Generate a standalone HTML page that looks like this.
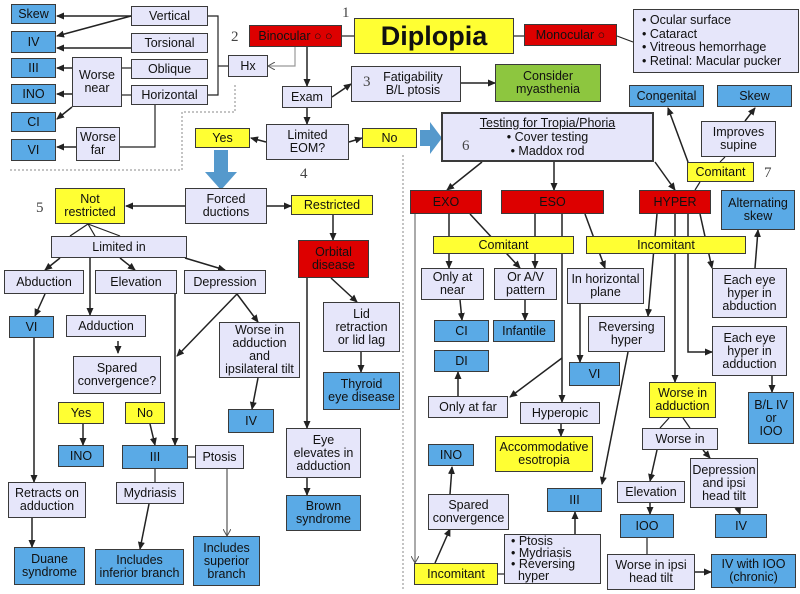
<!DOCTYPE html>
<html><head><meta charset="utf-8"><style>
body{margin:0;width:800px;height:594px;background:#fff;position:relative;overflow:hidden;font-family:"Liberation Sans",sans-serif;}
.b{position:absolute;box-sizing:border-box;border:1.5px solid #3a3a3a;display:flex;align-items:center;justify-content:center;text-align:center;font-size:12.5px;line-height:13px;color:#111;background:#e6e6fa;}
.l{background:#e6e6fa}.u{background:#5aaae6}.y{background:#ffff33}.r{background:#dd0000;color:#111}.g{background:#8dc63f}
.n{position:absolute;font-family:"Liberation Serif",serif;font-size:15px;color:#444}
svg{position:absolute;left:0;top:0}
</style></head><body>
<svg width="800" height="594">
<defs><marker id="a" markerWidth="8" markerHeight="8" refX="7" refY="4" orient="auto" markerUnits="userSpaceOnUse"><path d="M0,0.5 L8,4 L0,7.5z" fill="#222"/></marker>
<marker id="o" markerWidth="8" markerHeight="8" refX="7" refY="4" orient="auto" markerUnits="userSpaceOnUse"><path d="M0,0 L7,4 L0,8" fill="none" stroke="#555"/></marker></defs>
<g fill="none" stroke="#888" stroke-dasharray="2,2" stroke-width="1">
<path d="M235,85 V112 H182 V170 H10"/><path d="M403,155 V590"/></g>
<g fill="none" stroke="#222" stroke-width="1.5" marker-end="url(#a)">
<path d="M131,16 L57,16"/><path d="M131,16 L57,36"/><path d="M131,48 L57,48"/>
<path d="M72,68 L57,68"/><path d="M72,94 L57,94"/><path d="M72,107 L57,119"/><path d="M76,147 L57,147"/>
<path d="M307,47 V86"/><path d="M332,97 L351,84"/><path d="M461,83 L495,83"/><path d="M307,108 V124"/>
<path d="M266,142 L251,138"/><path d="M349,142 L362,138"/>
<path d="M185,206 L126,206"/><path d="M267,206 L291,206"/><path d="M333,215 V240"/>
<path d="M331,278 L357,302"/><path d="M361,352 V372"/><path d="M307,278 V428"/><path d="M307,478 V495"/>
<path d="M60,258 L45,270"/><path d="M90,258 V315"/><path d="M120,258 L135,270"/><path d="M185,258 L225,270"/>
<path d="M45,294 L35,316"/><path d="M34,338 V482"/><path d="M32,518 V547"/>
<path d="M118,341 V353"/><path d="M175,294 V445"/><path d="M237,294 L177,356"/><path d="M237,294 L258,322"/>
<path d="M258,378 L252,409"/><path d="M83,424 V445"/><path d="M150,424 L155,445"/>
<path d="M149,504 L140,549"/>
<path d="M482,162 L447,190"/><path d="M554,162 V190"/><path d="M655,162 L675,190"/>
<path d="M688,162 L668,108"/><path d="M745,121 L755,108"/>
<path d="M449,214 V268"/><path d="M470,214 L520,268"/><path d="M535,214 V268"/><path d="M562,214 V402"/><path d="M562,358 L510,397"/><path d="M585,214 L605,268"/>
<path d="M657,214 L648,316"/><path d="M675,214 V382"/><path d="M688,214 V352 H712"/><path d="M700,214 L712,268"/>
<path d="M755,268 L758,230"/><path d="M772,376 V392"/>
<path d="M460,300 L462,320"/><path d="M525,300 V320"/><path d="M580,304 V362"/><path d="M458,396 V372"/><path d="M561,424 V436"/>
<path d="M628,352 L602,484"/><path d="M657,450 L650,481"/><path d="M703,450 L710,458"/><path d="M650,503 V514"/><path d="M738,508 L740,514"/>
<path d="M695,572 H711"/><path d="M435,563 L450,529"/><path d="M450,494 L452,467"/><path d="M575,534 V512"/>
</g>
<g fill="none" stroke="#222" stroke-width="1.2">
<path d="M122,68 H131"/><path d="M122,95 H131"/><path d="M155,105 V147 H120"/><path d="M208,16 H218 V95 H208"/><path d="M218,66 H228"/>
<path d="M342,36 H354"/><path d="M514,36 H524"/><path d="M617,36 L633,42"/>
<path d="M88,224 L70,236"/><path d="M88,224 L95,236"/><path d="M88,224 L120,236"/>
<path d="M720,162 L725,157"/><path d="M700,182 L695,190"/>
<path d="M188,457 H195"/><path d="M155,469 V482"/>
<path d="M669,418 L660,428"/><path d="M683,418 L690,428"/><path d="M647,538 V554"/><path d="M498,574 H504"/>
</g>
<path d="M295,47 V66 H268" fill="none" stroke="#999" stroke-width="1.2" marker-end="url(#o)"/>
<path d="M227,469 V536" fill="none" stroke="#555" stroke-width="1.2" marker-end="url(#o)"/>
<path d="M415,214 V563" fill="none" stroke="#555" stroke-width="1" marker-end="url(#o)"/>
<path d="M214,150 H228 V172 H237 L221,190 L205,172 H214z" fill="#5599cc"/>
<path d="M420,130 H430 V122 L442,138 L430,154 V146 H420z" fill="#5599cc"/>
</svg>
<div class="b u" style="left:11px;top:4px;width:45px;height:20px">Skew</div>
<div class="b u" style="left:11px;top:31px;width:45px;height:22px">IV</div>
<div class="b u" style="left:11px;top:58px;width:45px;height:20px">III</div>
<div class="b u" style="left:11px;top:84px;width:45px;height:20px">INO</div>
<div class="b u" style="left:11px;top:112px;width:45px;height:20px">CI</div>
<div class="b u" style="left:11px;top:139px;width:45px;height:22px">VI</div>
<div class="b" style="left:131px;top:6px;width:77px;height:20px">Vertical</div>
<div class="b" style="left:131px;top:33px;width:77px;height:20px">Torsional</div>
<div class="b" style="left:131px;top:59px;width:77px;height:20px">Oblique</div>
<div class="b" style="left:131px;top:85px;width:77px;height:20px">Horizontal</div>
<div class="b" style="left:72px;top:57px;width:50px;height:50px">Worse near</div>
<div class="b" style="left:76px;top:127px;width:44px;height:34px">Worse far</div>
<div class="b" style="left:228px;top:55px;width:40px;height:22px">Hx</div>
<div class="b r" style="left:249px;top:25px;width:93px;height:22px">Binocular ○ ○</div>
<div class="b y" style="left:354px;top:18px;width:160px;height:36px;font-size:27px;font-weight:bold">Diplopia</div>
<div class="b r" style="left:524px;top:24px;width:93px;height:22px">Monocular ○</div>
<div class="b" style="left:633px;top:9px;width:166px;height:64px;justify-content:flex-start;text-align:left;padding-left:8px;line-height:13.5px">• Ocular surface<br>• Cataract<br>• Vitreous hemorrhage<br>• Retinal: Macular pucker</div>
<div class="b" style="left:282px;top:86px;width:50px;height:22px">Exam</div>
<div class="b" style="left:351px;top:66px;width:110px;height:36px">&nbsp;&nbsp;&nbsp;&nbsp;Fatigability<br>&nbsp;&nbsp;&nbsp;&nbsp;B/L ptosis</div>
<div class="b g" style="left:495px;top:64px;width:106px;height:38px">Consider<br>myasthenia</div>
<div class="b" style="left:266px;top:124px;width:83px;height:36px">Limited<br>EOM?</div>
<div class="b y" style="left:195px;top:128px;width:55px;height:20px">Yes</div>
<div class="b y" style="left:362px;top:128px;width:55px;height:20px">No</div>
<div class="b" style="left:441px;top:112px;width:213px;height:50px;border-width:2.5px;flex-direction:column;line-height:14px"><u>Testing for Tropia/Phoria</u>• Cover testing<br>• Maddox rod</div>
<div class="b u" style="left:629px;top:85px;width:75px;height:22px">Congenital</div>
<div class="b u" style="left:717px;top:85px;width:75px;height:22px">Skew</div>
<div class="b" style="left:701px;top:121px;width:75px;height:36px">Improves<br>supine</div>
<div class="b y" style="left:687px;top:162px;width:67px;height:20px">Comitant</div>
<div class="b u" style="left:721px;top:190px;width:74px;height:40px">Alternating<br>skew</div>
<div class="b r" style="left:410px;top:190px;width:72px;height:24px">EXO</div>
<div class="b r" style="left:501px;top:190px;width:103px;height:24px">ESO</div>
<div class="b r" style="left:639px;top:190px;width:72px;height:24px">HYPER</div>
<div class="b y" style="left:433px;top:236px;width:141px;height:18px">Comitant</div>
<div class="b y" style="left:586px;top:236px;width:160px;height:18px">Incomitant</div>
<div class="b" style="left:421px;top:268px;width:63px;height:32px">Only at<br>near</div>
<div class="b" style="left:494px;top:268px;width:63px;height:32px">Or A/V<br>pattern</div>
<div class="b" style="left:567px;top:268px;width:77px;height:36px">In horizontal<br>plane</div>
<div class="b" style="left:712px;top:268px;width:75px;height:50px">Each eye<br>hyper in<br>abduction</div>
<div class="b u" style="left:434px;top:320px;width:55px;height:22px">CI</div>
<div class="b u" style="left:493px;top:320px;width:62px;height:22px">Infantile</div>
<div class="b" style="left:588px;top:316px;width:77px;height:36px">Reversing<br>hyper</div>
<div class="b" style="left:712px;top:326px;width:75px;height:50px">Each eye<br>hyper in<br>adduction</div>
<div class="b u" style="left:434px;top:350px;width:55px;height:22px">DI</div>
<div class="b u" style="left:569px;top:362px;width:51px;height:24px">VI</div>
<div class="b y" style="left:649px;top:382px;width:67px;height:36px">Worse in<br>adduction</div>
<div class="b u" style="left:748px;top:392px;width:46px;height:52px">B/L IV<br>or<br>IOO</div>
<div class="b" style="left:428px;top:396px;width:80px;height:22px">Only at far</div>
<div class="b" style="left:520px;top:402px;width:80px;height:22px">Hyperopic</div>
<div class="b" style="left:642px;top:428px;width:76px;height:22px">Worse in</div>
<div class="b y" style="left:495px;top:436px;width:98px;height:36px">Accommodative<br>esotropia</div>
<div class="b u" style="left:428px;top:444px;width:46px;height:22px">INO</div>
<div class="b" style="left:690px;top:458px;width:68px;height:50px">Depression<br>and ipsi<br>head tilt</div>
<div class="b" style="left:617px;top:481px;width:68px;height:22px">Elevation</div>
<div class="b u" style="left:547px;top:488px;width:55px;height:24px">III</div>
<div class="b" style="left:428px;top:494px;width:81px;height:36px">Spared<br>convergence</div>
<div class="b u" style="left:620px;top:514px;width:54px;height:24px">IOO</div>
<div class="b u" style="left:715px;top:514px;width:52px;height:24px">IV</div>
<div class="b" style="left:504px;top:534px;width:97px;height:50px;justify-content:flex-start;text-align:left;padding-left:6px;line-height:11.5px">• Ptosis<br>• Mydriasis<br>• Reversing<br>&nbsp;&nbsp;hyper</div>
<div class="b y" style="left:414px;top:563px;width:84px;height:22px">Incomitant</div>
<div class="b" style="left:607px;top:554px;width:88px;height:36px">Worse in ipsi<br>head tilt</div>
<div class="b u" style="left:711px;top:554px;width:85px;height:34px">IV with IOO<br>(chronic)</div>
<div class="b y" style="left:55px;top:188px;width:70px;height:36px">Not<br>restricted</div>
<div class="b" style="left:185px;top:188px;width:82px;height:36px">Forced<br>ductions</div>
<div class="b y" style="left:291px;top:195px;width:82px;height:20px">Restricted</div>
<div class="b" style="left:51px;top:236px;width:136px;height:22px">Limited in</div>
<div class="b r" style="left:298px;top:240px;width:71px;height:38px">Orbital<br>disease</div>
<div class="b" style="left:4px;top:270px;width:80px;height:24px">Abduction</div>
<div class="b" style="left:95px;top:270px;width:82px;height:24px">Elevation</div>
<div class="b" style="left:184px;top:270px;width:82px;height:24px">Depression</div>
<div class="b u" style="left:9px;top:316px;width:45px;height:22px">VI</div>
<div class="b" style="left:66px;top:315px;width:80px;height:22px">Adduction</div>
<div class="b" style="left:323px;top:302px;width:77px;height:50px">Lid<br>retraction<br>or lid lag</div>
<div class="b" style="left:219px;top:322px;width:81px;height:56px">Worse in<br>adduction<br>and<br>ipsilateral tilt</div>
<div class="b" style="left:73px;top:356px;width:88px;height:38px">Spared<br>convergence?</div>
<div class="b u" style="left:323px;top:372px;width:77px;height:38px">Thyroid<br>eye disease</div>
<div class="b y" style="left:58px;top:402px;width:46px;height:22px">Yes</div>
<div class="b y" style="left:125px;top:402px;width:40px;height:22px">No</div>
<div class="b u" style="left:228px;top:409px;width:46px;height:24px">IV</div>
<div class="b" style="left:286px;top:428px;width:75px;height:50px">Eye<br>elevates in<br>adduction</div>
<div class="b u" style="left:58px;top:445px;width:46px;height:22px">INO</div>
<div class="b u" style="left:122px;top:445px;width:66px;height:24px">III</div>
<div class="b" style="left:195px;top:445px;width:49px;height:24px">Ptosis</div>
<div class="b" style="left:8px;top:482px;width:78px;height:36px">Retracts on<br>adduction</div>
<div class="b" style="left:116px;top:482px;width:68px;height:22px">Mydriasis</div>
<div class="b u" style="left:286px;top:495px;width:75px;height:36px">Brown<br>syndrome</div>
<div class="b u" style="left:14px;top:547px;width:71px;height:38px">Duane<br>syndrome</div>
<div class="b u" style="left:95px;top:549px;width:89px;height:36px">Includes<br>inferior branch</div>
<div class="b u" style="left:193px;top:536px;width:67px;height:50px">Includes<br>superior<br>branch</div>
<div class="n" style="left:342px;top:5px">1</div>
<div class="n" style="left:231px;top:29px">2</div>
<div class="n" style="left:363px;top:74px">3</div>
<div class="n" style="left:300px;top:166px">4</div>
<div class="n" style="left:36px;top:200px">5</div>
<div class="n" style="left:462px;top:138px">6</div>
<div class="n" style="left:764px;top:165px">7</div>
</body></html>
